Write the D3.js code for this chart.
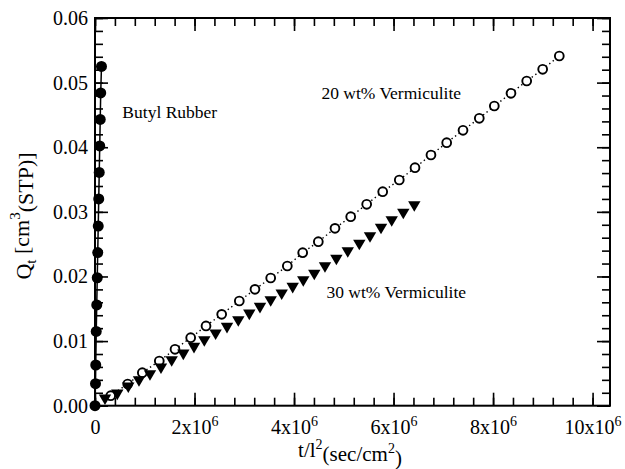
<!DOCTYPE html>
<html>
<head>
<meta charset="utf-8">
<script src="https://cdn.jsdelivr.net/npm/d3@7/dist/d3.min.js"></script>
<style>
  html, body { margin: 0; padding: 0; background: #fff; }
  svg { display: block; font-family: "Liberation Serif", "DejaVu Serif", serif; }
</style>
</head>
<body>
<svg id="chart" width="625" height="469"></svg>
<script>
// ---- data (x in sec/cm^2, y in cm^3(STP)) ----
const butylX = [0, 0.01e6, 0.015e6, 0.025e6, 0.035e6, 0.045e6, 0.055e6, 0.065e6, 0.075e6, 0.085e6, 0.095e6, 0.105e6, 0.115e6, 0.13e6];
const butylY = [0, 0.0034, 0.0063, 0.0115, 0.0156, 0.0198, 0.0237, 0.0278, 0.0320, 0.0361, 0.0402, 0.0443, 0.0484, 0.0525];

const verm20X = [0.316e6, 0.657e6, 0.951e6, 1.292e6, 1.608e6, 1.923e6, 2.231e6, 2.546e6, 2.900e6, 3.215e6,
                 3.531e6, 3.865e6, 4.174e6, 4.488e6, 4.823e6, 5.139e6, 5.460e6, 5.782e6, 6.115e6, 6.431e6,
                 6.752e6, 7.068e6, 7.396e6, 7.723e6, 8.025e6, 8.360e6, 8.676e6, 8.997e6, 9.331e6];
const verm20Y = [0.00155, 0.00336, 0.00511, 0.00692, 0.00873, 0.01052, 0.01234, 0.01414, 0.01620, 0.01801,
                 0.01976, 0.02162, 0.02368, 0.02538, 0.02745, 0.02925, 0.03117, 0.03312, 0.03493, 0.03683,
                 0.03880, 0.04070, 0.04262, 0.04448, 0.04638, 0.04835, 0.05025, 0.05206, 0.05412];

const verm30X = [0.201e6, 0.448e6, 0.669e6, 0.884e6, 1.105e6, 1.326e6, 1.541e6, 1.775e6, 1.990e6, 2.197e6,
                 2.424e6, 2.653e6, 2.880e6, 3.101e6, 3.316e6, 3.531e6, 3.752e6, 3.973e6, 4.186e6, 4.407e6,
                 4.622e6, 4.851e6, 5.080e6, 5.312e6, 5.527e6, 5.748e6, 5.963e6, 6.196e6, 6.417e6];
const verm30Y = [0.00099, 0.00176, 0.00285, 0.00382, 0.00475, 0.00579, 0.00692, 0.00795, 0.00898, 0.01001,
                 0.01105, 0.01209, 0.01311, 0.01414, 0.01518, 0.01620, 0.01724, 0.01828, 0.01930, 0.02030,
                 0.02147, 0.02263, 0.02379, 0.02495, 0.02611, 0.02742, 0.02858, 0.02974, 0.03091];

const xMajorTicks = [0, 2e6, 4e6, 6e6, 8e6, 10e6];
const xTickLabels = ["0", "2x10|6", "4x10|6", "6x10|6", "8x10|6", "10x10|6"];
const yMajorTicks = [0, 0.01, 0.02, 0.03, 0.04, 0.05, 0.06];
const yTickLabels = ["0.00", "0.01", "0.02", "0.03", "0.04", "0.05", "0.06"];

const labels = [
  {text: "Butyl Rubber", x: 0.55e6, y: 0.0446},
  {text: "20 wt% Vermiculite", x: 4.55e6, y: 0.0475},
  {text: "30 wt% Vermiculite", x: 4.65e6, y: 0.0166}
];

// ---- layout ----
const svg = d3.select("#chart");
const pLeft = 95, pRight = 610, pTop = 18, pBottom = 405.7;
const x = d3.scaleLinear().domain([0, 10.35e6]).range([pLeft, pRight]);
const y = d3.scaleLinear().domain([0, 0.06]).range([pBottom, pTop]);

const xMinor = d3.range(0, 10.35e6, 0.4e6);
const yMinor = d3.range(0, 0.0601, 0.002);

function styleAxis(g) {
  g.select(".domain").remove();
  g.selectAll(".tick line").attr("stroke", "#000").attr("stroke-width", 1.6);
}

// minor ticks (inward) on all four sides
svg.append("g").attr("transform", `translate(0,${pBottom})`)
  .call(d3.axisBottom(x).tickValues(xMinor).tickSize(-8).tickFormat(""))
  .call(styleAxis);
svg.append("g").attr("transform", `translate(0,${pTop})`)
  .call(d3.axisTop(x).tickValues(xMinor).tickSize(-8).tickFormat(""))
  .call(styleAxis);
svg.append("g").attr("transform", `translate(${pLeft},0)`)
  .call(d3.axisLeft(y).tickValues(yMinor).tickSize(-8).tickFormat(""))
  .call(styleAxis);
svg.append("g").attr("transform", `translate(${pRight},0)`)
  .call(d3.axisRight(y).tickValues(yMinor).tickSize(-8).tickFormat(""))
  .call(styleAxis);

// major ticks
const xb = svg.append("g").attr("transform", `translate(0,${pBottom})`)
  .call(d3.axisBottom(x).tickValues(xMajorTicks).tickSize(-13).tickPadding(14)
        .tickFormat((d, i) => xTickLabels[i]))
  .call(styleAxis);
svg.append("g").attr("transform", `translate(0,${pTop})`)
  .call(d3.axisTop(x).tickValues(xMajorTicks).tickSize(-13).tickFormat(""))
  .call(styleAxis);
const yl = svg.append("g").attr("transform", `translate(${pLeft},0)`)
  .call(d3.axisLeft(y).tickValues(yMajorTicks).tickSize(-13).tickPadding(7)
        .tickFormat((d, i) => yTickLabels[i]))
  .call(styleAxis);
svg.append("g").attr("transform", `translate(${pRight},0)`)
  .call(d3.axisRight(y).tickValues(yMajorTicks).tickSize(-13).tickFormat(""))
  .call(styleAxis);

// tick label styling with superscripts
xb.selectAll(".tick text").each(function() {
  const t = d3.select(this);
  const parts = t.text().split("|");
  t.text(null).attr("font-size", 20).attr("font-family", "Liberation Serif").attr("fill", "#000");
  t.append("tspan").text(parts[0]);
  if (parts[1]) t.append("tspan").attr("font-size", 14).attr("dy", "-0.55em").text(parts[1]);
});
yl.selectAll(".tick text").attr("font-size", 20).attr("font-family", "Liberation Serif").attr("fill", "#000");

// frame
svg.append("rect").attr("x", pLeft).attr("y", pTop)
  .attr("width", pRight - pLeft).attr("height", pBottom - pTop)
  .attr("fill", "none").attr("stroke", "#000").attr("stroke-width", 2);

// ---- series ----
const line = d3.line().x(d => x(d[0])).y(d => y(d[1]));
const butyl = butylX.map((v, i) => [v, butylY[i]]);
const v20 = verm20X.map((v, i) => [v, verm20Y[i]]);
const v30 = verm30X.map((v, i) => [v, verm30Y[i]]);

svg.append("path").datum(v20).attr("d", line)
  .attr("fill", "none").attr("stroke", "#000").attr("stroke-width", 1.4)
  .attr("stroke-dasharray", "1.4,3");
svg.append("path").datum(butyl).attr("d", line)
  .attr("fill", "none").attr("stroke", "#000").attr("stroke-width", 1.5);

svg.append("g").selectAll("circle").data(v20).join("circle")
  .attr("cx", d => x(d[0])).attr("cy", d => y(d[1])).attr("r", 4.4)
  .attr("fill", "#fff").attr("stroke", "#000").attr("stroke-width", 1.9);

svg.append("g").selectAll("path").data(v30).join("path")
  .attr("transform", d => `translate(${x(d[0])},${y(d[1])})`)
  .attr("d", "M-6.2,-4.8L6.2,-4.8L0,5.8Z")
  .attr("fill", "#000");

svg.append("g").selectAll("circle").data(butyl).join("circle")
  .attr("cx", d => x(d[0])).attr("cy", d => y(d[1])).attr("r", 5.5)
  .attr("fill", "#000");

// ---- annotations ----
svg.append("g").selectAll("text").data(labels).join("text")
  .attr("x", d => x(d.x)).attr("y", d => y(d.y))
  .attr("font-size", 17.5).attr("fill", "#000")
  .text(d => d.text);

// ---- axis titles ----
const xt = svg.append("text").attr("x", 350).attr("y", 457)
  .attr("text-anchor", "middle").attr("font-size", 21).attr("fill", "#000");
xt.append("tspan").text("t/l");
xt.append("tspan").attr("font-size", 14).attr("dy", "-0.6em").text("2");
xt.append("tspan").attr("dy", "0.6em").text("(sec/cm");
xt.append("tspan").attr("font-size", 14).attr("dy", "-0.6em").text("2");
xt.append("tspan").attr("dy", "0.6em").text(")");

const yt = svg.append("text").attr("transform", "translate(31,216) rotate(-90)")
  .attr("text-anchor", "middle").attr("font-size", 22).attr("fill", "#000");
yt.append("tspan").text("Q");
yt.append("tspan").attr("font-size", 15).attr("dy", "0.35em").text("t");
yt.append("tspan").attr("dy", "-0.35em").text(" [cm");
yt.append("tspan").attr("font-size", 15).attr("dy", "-0.6em").text("3");
yt.append("tspan").attr("dy", "0.6em").text("(STP)]");
</script>
</body>
</html>
